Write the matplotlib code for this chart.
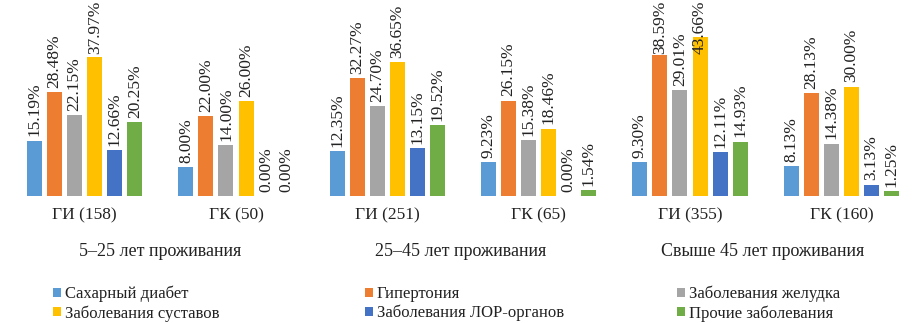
import matplotlib
matplotlib.use("Agg")
import matplotlib.pyplot as plt
import numpy as np

plt.rcParams['font.family'] = ['Liberation Serif', 'DejaVu Serif']

groups = ["ГИ (158)", "ГК (50)", "ГИ (251)", "ГК (65)", "ГИ (355)", "ГК (160)"]
periods = ["5–25 лет проживания", "25–45 лет проживания", "Свыше 45 лет проживания"]
series = ["Сахарный диабет", "Гипертония", "Заболевания желудка",
          "Заболевания суставов", "Заболевания ЛОР-органов", "Прочие заболевания"]
diabetes = [15.19, 8.00, 12.35, 9.23, 9.30, 8.13]
hypertension = [28.48, 22.00, 32.27, 26.15, 38.59, 28.13]
stomach = [22.15, 14.00, 24.70, 15.38, 29.01, 14.38]
joints = [37.97, 26.00, 36.65, 18.46, 43.66, 30.00]
ent = [12.66, 0.00, 13.15, 0.00, 12.11, 3.13]
other = [20.25, 0.00, 19.52, 1.54, 14.93, 1.25]
values = [diabetes, hypertension, stomach, joints, ent, other]
colors = ["#5B9BD5", "#ED7D31", "#A5A5A5", "#FFC000", "#4472C4", "#70AD47"]

W, H = 923, 323
fig = plt.figure(figsize=(W / 100, H / 100), dpi=100)
fig.patch.set_facecolor("white")

x0_px, x1_px = 9, 917
ax = fig.add_axes([x0_px / W, (H - 196) / H, (x1_px - x0_px) / W, 196 / H])
ax.set_ylim(0, 196 / 3.65)
x = np.arange(len(groups))
ax.set_xlim(-0.5, len(groups) - 0.5)
step = 20 / 151.0
bw = 15 / 151.0
texts = []
handles = []
for i, (vals, c) in enumerate(zip(values, colors)):
    xs = x + (i - 2.5) * step
    b = ax.bar(xs, vals, width=bw, color=c, label=series[i])
    handles.append(b)
    for xv, v in zip(xs, vals):
        t = ax.annotate(f"{v:.2f}%", (xv, v), xytext=(0, 3), textcoords="offset points",
                        rotation=90, ha="center", va="bottom", fontsize=12.5,
                        color="#222222", annotation_clip=False)
        texts.append(t)

ax.set_xticks(x)
ax.set_xticklabels(groups, fontsize=12.5, color="#222222")
ax.tick_params(axis="x", length=0, pad=8)
ax.set_yticks([])
for s in ax.spines.values():
    s.set_visible(False)
ax.patch.set_alpha(0)

# keep labels inside the figure (as the original does)
fig.canvas.draw()
r = fig.canvas.get_renderer()
for t in texts:
    bb = t.get_window_extent(r)
    if bb.y1 > H - 1:
        shift = bb.y1 - (H - 1)
        t.xyann = (0, 3 - shift * 72 / 100)

for cx, p in zip([160, 461, 763], periods):
    fig.text(cx / W, 1 - 251 / H, p, ha="center", va="center", fontsize=13, color="#222222")

cols = [(53, [0, 3]), (365, [1, 4]), (677, [2, 5])]
for px, idx in cols:
    leg = fig.legend([handles[k] for k in idx], [series[k] for k in idx],
                     loc="upper left", bbox_to_anchor=(px / W, 1 - 286 / H),
                     frameon=False, fontsize=12, borderpad=0, borderaxespad=0,
                     handlelength=0.45, handleheight=0.45, handletextpad=0.25,
                     labelspacing=0.15)
    for t in leg.get_texts():
        t.set_color("#222222")

fig.savefig("out.png", dpi=100, facecolor="white")
